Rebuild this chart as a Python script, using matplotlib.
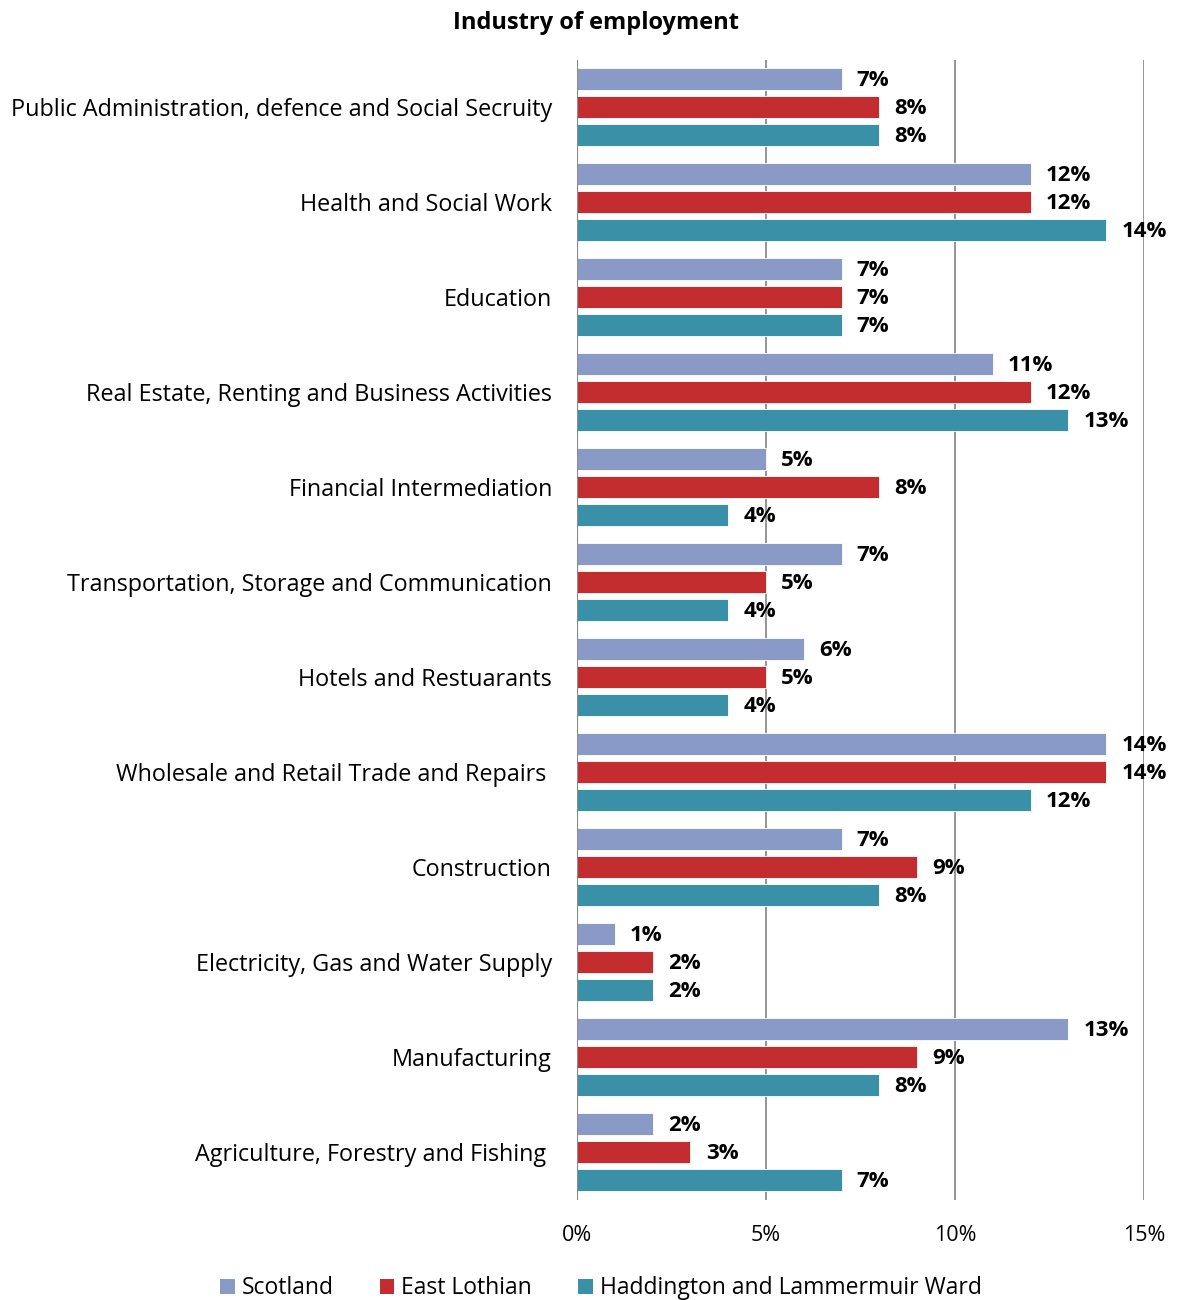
import matplotlib
matplotlib.use("Agg")
import matplotlib.pyplot as plt
import numpy as np
from matplotlib.patches import Patch

plt.rcParams["font.family"] = ["Open Sans", "DejaVu Sans"]

industries = [
    "Public Administration, defence and Social Secruity",
    "Health and Social Work",
    "Education",
    "Real Estate, Renting and Business Activities",
    "Financial Intermediation",
    "Transportation, Storage and Communication",
    "Hotels and Restuarants",
    "Wholesale and Retail Trade and Repairs ",
    "Construction",
    "Electricity, Gas and Water Supply",
    "Manufacturing",
    "Agriculture, Forestry and Fishing ",
]

scotland = [7, 12, 7, 11, 5, 7, 6, 14, 7, 1, 13, 2]
east_lothian = [8, 12, 7, 12, 8, 5, 5, 14, 9, 2, 9, 3]
haddington = [8, 14, 7, 13, 4, 4, 4, 12, 8, 2, 8, 7]

series_names = ["Scotland", "East Lothian", "Haddington and Lammermuir Ward"]
colors = ["#8A9AC6", "#C32D2F", "#3A91A7"]
x_ticks = [0, 5, 10, 15]

fig = plt.figure(figsize=(11.78, 13.0), dpi=100)
ax = fig.add_axes([0.4898, 0.077, 0.4813, 0.877])

# three bars per industry, stacked top to bottom: Scotland, East Lothian, ward
y = np.arange(len(industries))
bar_h = 0.232
step = 0.294
for i, (vals, color) in enumerate(zip([scotland, east_lothian, haddington], colors)):
    pos = y + (i - 1) * step
    ax.barh(pos, vals, height=bar_h, color=color, edgecolor="white", linewidth=0.6, zorder=3)
    for p, v in zip(pos, vals):
        ax.annotate(f"{v}%", (v, p), xytext=(11, -1), textcoords="offset points",
                    ha="left", va="center", fontsize=16, fontweight="bold",
                    color="black", zorder=4)

ax.set_xlim(0, 15)
ax.set_ylim(len(industries) - 0.5, -0.5)
ax.set_xticks(x_ticks)
ax.set_xticklabels([f"{t}%" for t in x_ticks], fontsize=15.5)
ax.set_yticks(y)
ax.set_yticklabels(industries, fontsize=16.8)
ax.tick_params(axis="both", length=0)
ax.tick_params(axis="y", pad=18)
ax.tick_params(axis="x", pad=18)

for t in x_ticks[1:]:
    ax.axvline(t, color="#8C8C8C", linewidth=1.3, zorder=1)
ax.axvline(0, color="#8C8C8C", linewidth=1.6, zorder=5)

for s in ax.spines.values():
    s.set_visible(False)

fig.text(0.506, 0.982, "Industry of employment", ha="center", va="center",
         fontsize=17, fontweight="bold")

handles = [Patch(facecolor=c, edgecolor="none") for c in colors]
fig.legend(handles, series_names, loc="center", bbox_to_anchor=(0.51, 0.009),
           ncol=3, frameon=False, fontsize=16.5, handlelength=0.65, handleheight=0.65,
           handletextpad=0.3, columnspacing=2.0)

fig.savefig("out.png", dpi=100)
